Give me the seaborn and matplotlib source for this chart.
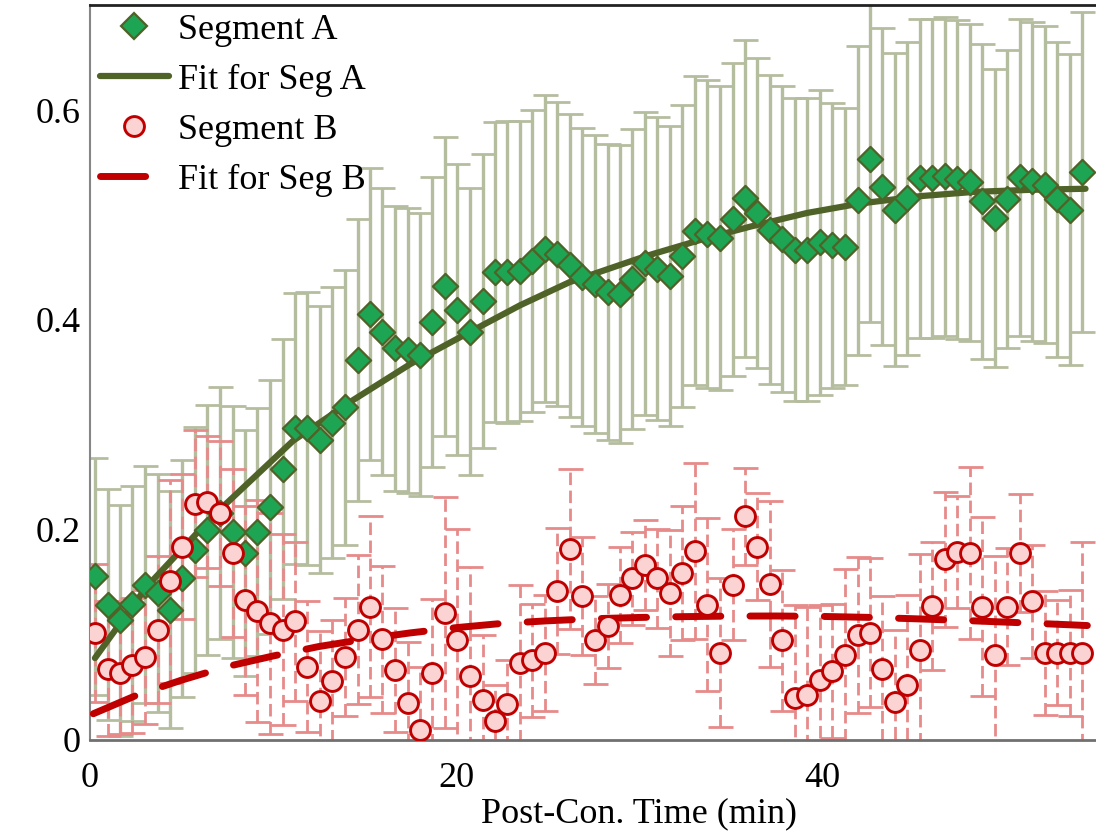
import matplotlib
matplotlib.use("Agg")
import matplotlib.pyplot as plt
from matplotlib.lines import Line2D
import seaborn as sns

# ---------------- data ----------------
time_min = [0.27, 0.96, 1.64, 2.32, 3.01, 3.69, 4.37, 5.05, 5.74, 6.42,
            7.10, 7.79, 8.47, 9.15, 9.84, 10.52, 11.20, 11.88, 12.57, 13.25,
            13.93, 14.62, 15.30, 15.98, 16.67, 17.35, 18.03, 18.71, 19.40, 20.08,
            20.76, 21.45, 22.13, 22.81, 23.50, 24.18, 24.86, 25.54, 26.23, 26.91,
            27.59, 28.28, 28.96, 29.64, 30.33, 31.01, 31.69, 32.37, 33.06, 33.74,
            34.42, 35.11, 35.79, 36.47, 37.16, 37.84, 38.52, 39.20, 39.89, 40.57,
            41.25, 41.94, 42.62, 43.30, 43.99, 44.67, 45.35, 46.03, 46.72, 47.40,
            48.08, 48.77, 49.45, 50.13, 50.82, 51.50, 52.18, 52.86, 53.55, 54.23]

seg_a = [0.156, 0.129, 0.114, 0.130, 0.148, 0.140, 0.124, 0.154, 0.181, 0.200,
         0.216, 0.198, 0.178, 0.198, 0.222, 0.258, 0.297, 0.297, 0.286, 0.302,
         0.317, 0.362, 0.406, 0.389, 0.373, 0.371, 0.367, 0.398, 0.432, 0.410,
         0.389, 0.418, 0.446, 0.446, 0.447, 0.456, 0.468, 0.463, 0.452, 0.441,
         0.434, 0.427, 0.425, 0.439, 0.454, 0.449, 0.442, 0.461, 0.485, 0.482,
         0.478, 0.496, 0.516, 0.502, 0.486, 0.477, 0.467, 0.467, 0.474, 0.471,
         0.470, 0.514, 0.553, 0.527, 0.505, 0.516, 0.535, 0.535, 0.537, 0.534,
         0.531, 0.513, 0.497, 0.515, 0.536, 0.532, 0.529, 0.515, 0.505, 0.541]

seg_a_err = [0.113, 0.110, 0.110, 0.112, 0.113, 0.113, 0.113, 0.113, 0.117, 0.119,
             0.120, 0.120, 0.117, 0.118, 0.121, 0.124, 0.129, 0.130, 0.127, 0.129,
             0.131, 0.134, 0.139, 0.137, 0.136, 0.136, 0.135, 0.138, 0.142, 0.139,
             0.137, 0.140, 0.143, 0.144, 0.143, 0.144, 0.146, 0.145, 0.144, 0.142,
             0.142, 0.141, 0.142, 0.143, 0.144, 0.144, 0.143, 0.144, 0.147, 0.147,
             0.145, 0.149, 0.151, 0.148, 0.147, 0.146, 0.144, 0.144, 0.145, 0.136,
             0.132, 0.147, 0.155, 0.151, 0.149, 0.149, 0.152, 0.152, 0.152, 0.152,
             0.151, 0.150, 0.142, 0.142, 0.151, 0.152, 0.151, 0.150, 0.148, 0.152]

seg_b = [0.102, 0.068, 0.064, 0.071, 0.079, 0.105, 0.151, 0.184, 0.225, 0.227,
         0.216, 0.178, 0.133, 0.123, 0.111, 0.105, 0.113, 0.070, 0.037, 0.056,
         0.079, 0.105, 0.127, 0.096, 0.067, 0.035, 0.010, 0.064, 0.121, 0.095,
         0.061, 0.038, 0.018, 0.034, 0.073, 0.076, 0.083, 0.142, 0.182, 0.137,
         0.095, 0.109, 0.138, 0.154, 0.167, 0.154, 0.140, 0.159, 0.180, 0.129,
         0.083, 0.148, 0.213, 0.184, 0.149, 0.095, 0.040, 0.043, 0.057, 0.066,
         0.081, 0.100, 0.102, 0.068, 0.036, 0.052, 0.086, 0.128, 0.172, 0.179,
         0.178, 0.127, 0.081, 0.127, 0.178, 0.132, 0.083, 0.083, 0.083, 0.083]

seg_b_err = [0.066, 0.064, 0.058, 0.064, 0.064, 0.070, 0.097, 0.069, 0.070, 0.063,
             0.069, 0.080, 0.090, 0.106, 0.105, 0.091, 0.076, 0.062, 0.067, 0.058,
             0.056, 0.071, 0.086, 0.070, 0.059, 0.058, 0.060, 0.070, 0.110, 0.106,
             0.104, 0.062, 0.034, 0.042, 0.075, 0.054, 0.055, 0.060, 0.076, 0.056,
             0.042, 0.040, 0.046, 0.044, 0.043, 0.047, 0.060, 0.064, 0.084, 0.082,
             0.071, 0.053, 0.046, 0.051, 0.079, 0.067, 0.089, 0.084, 0.072, 0.064,
             0.082, 0.074, 0.071, 0.069, 0.069, 0.086, 0.091, 0.061, 0.064, 0.053,
             0.082, 0.085, 0.094, 0.056, 0.056, 0.054, 0.059, 0.050, 0.060, 0.106]

fit_a_time = [0.27, 3.1, 6.7, 11.1, 14.4, 17.5, 20.8, 23.5, 26.2, 30.4,
              33.5, 36.1, 39.2, 42.1, 45.4, 48.3, 51.4, 54.4]
fit_a = [0.078, 0.146, 0.213, 0.285, 0.324, 0.358, 0.389, 0.414, 0.436, 0.461,
         0.477, 0.489, 0.502, 0.511, 0.518, 0.522, 0.524, 0.525]

fit_b_time = [0.18, 2.6, 5.0, 7.5, 10.0, 12.5, 15.0, 17.5, 20.0, 22.5, 25.0, 27.5,
              30.0, 32.5, 35.0, 37.5, 40.0, 42.5, 45.0, 47.5, 50.0, 52.5, 54.5]
fit_b = [0.025, 0.043, 0.057, 0.070, 0.080, 0.089, 0.096, 0.102, 0.107, 0.111,
         0.1135, 0.1155, 0.1167, 0.1175, 0.118, 0.1181, 0.1177, 0.1168, 0.1155,
         0.114, 0.1123, 0.1105, 0.109]

x_ticks = [0, 20, 40]
y_ticks = [0, 0.2, 0.4, 0.6]
y_tick_labels = ["0", "0.2", "0.4", "0.6"]
x_label = "Post-Con. Time (min)"
legend_labels = ["Segment A", "Fit for Seg A", "Segment B", "Fit for Seg B"]

# ---------------- styling ----------------
sns.set_style("white")
plt.rcParams["font.family"] = ["Liberation Serif", "DejaVu Serif"]
plt.rcParams["text.color"] = "black"
plt.rcParams["axes.labelcolor"] = "black"
plt.rcParams["xtick.color"] = "black"
plt.rcParams["ytick.color"] = "black"

GREEN_FACE = "#1ea553"
OLIVE = "#4f6228"
GREEN_ERR = "#b5bd9f"
RED = "#c00000"
RED_FACE = "#fbd3d3"
RED_ERR = "#e68a8a"

W, H = 1096, 834
fig = plt.figure(figsize=(W / 100, H / 100), dpi=100)
ax = fig.add_axes([90 / W, 94 / H, 1098 / W, 735 / H])

# error bars
eb_a = ax.errorbar(time_min, seg_a, yerr=seg_a_err, fmt="none", ecolor=GREEN_ERR,
                   elinewidth=2.4, capsize=9, capthick=2, zorder=1)
eb_b = ax.errorbar(time_min, seg_b, yerr=seg_b_err, fmt="none", ecolor=RED_ERR,
                   elinewidth=2.0, capsize=9, capthick=2, zorder=2)
eb_b[2][0].set_linestyle((0, (4.5, 2.0)))

# fit lines
sns.lineplot(x=fit_a_time, y=fit_a, color=OLIVE, linewidth=4.5, ax=ax,
             zorder=3, legend=False)
line_a = ax.get_lines()[-1]
line_a.set_solid_capstyle("round")
sns.lineplot(x=fit_b_time, y=fit_b, color=RED, linewidth=5, ax=ax,
             zorder=4, legend=False)
line_b = ax.get_lines()[-1]
line_b.set_dashes((6.5, 4.2))
line_b.set_dash_capstyle("round")

# points
sns.scatterplot(x=time_min, y=seg_a, marker="D", s=165, color=GREEN_FACE,
                edgecolor=OLIVE, linewidth=1.6, zorder=5, ax=ax, legend=False)
sns.scatterplot(x=time_min, y=seg_b, marker="o", s=205, color=RED_FACE,
                edgecolor=RED, linewidth=2.1, zorder=6, ax=ax, legend=False)

# axes
ax.set_xlim(0, 60)
ax.set_ylim(0, 0.7)
ax.set_xticks(x_ticks)
ax.set_xticklabels([str(t) for t in x_ticks])
ax.set_yticks(y_ticks)
ax.set_yticklabels(y_tick_labels)
ax.tick_params(axis="both", direction="out", length=7, width=1.5,
               color="#808080", labelsize=26, labelcolor="black")
ax.tick_params(axis="y", pad=0)
ax.tick_params(axis="x", pad=9)
ax.set_xlabel(x_label, fontsize=26, labelpad=1.5, color="black")
ax.set_ylabel("")

ax.spines["right"].set_visible(False)
ax.spines["left"].set_color("#868686")
ax.spines["left"].set_linewidth(1.5)
ax.spines["bottom"].set_color("#707070")
ax.spines["bottom"].set_linewidth(2)
ax.spines["top"].set_color("#222222")
ax.spines["top"].set_linewidth(2)
ax.grid(False)

# legend
handles = [
    Line2D([], [], linestyle="none", marker="D", markersize=12.8,
           markerfacecolor=GREEN_FACE, markeredgecolor=OLIVE, markeredgewidth=1.6),
    Line2D([], [], color=OLIVE, linewidth=4.5, solid_capstyle="round"),
    Line2D([], [], linestyle="none", marker="o", markersize=14.3,
           markerfacecolor=RED_FACE, markeredgecolor=RED, markeredgewidth=2.1),
    Line2D([], [], color=RED, linewidth=5, dashes=(6.5, 4.2), dash_capstyle="round"),
]
leg = ax.legend(handles, legend_labels, loc="upper left",
                bbox_to_anchor=(10 / 1098, 0.988), borderaxespad=0, borderpad=0,
                frameon=False, fontsize=26, handlelength=1.9,
                handletextpad=0.25, labelspacing=0.46, labelcolor="black")
leg.set_zorder(10)

fig.savefig("out.png", dpi=100)
